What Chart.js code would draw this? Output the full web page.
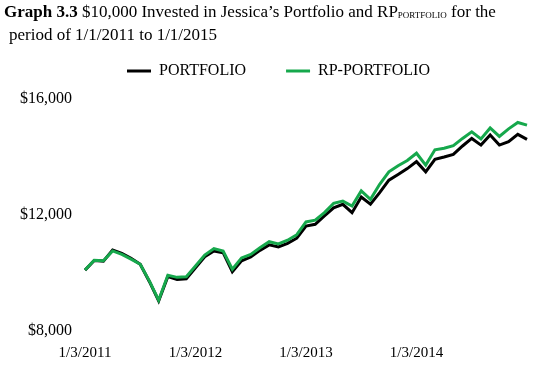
<!DOCTYPE html>
<html>
<head>
<meta charset="utf-8">
<script src="https://cdn.jsdelivr.net/npm/chart.js@4"></script>
<style>
    body { margin: 0; background: #fff; }
    #wrap { position: relative; width: 535px; height: 366px; }
    #title {
        position: absolute; left: 4px; top: 2px;
        font-family: "Liberation Serif", serif; font-size: 17px; line-height: 19.5px; color: #000;
    }
    #title .sub { font-size: 9px; position: relative; top: 1px; }
    #title .l2 { padding-left: 5px; }
    canvas { position: absolute; left: 0; top: 0; }
</style>
</head>
<body>
<div id="wrap">
    <canvas id="chart" width="535" height="366"></canvas>
    <div id="title"><b>Graph 3.3</b> $10,000 Invested in Jessica’s Portfolio and RP<span class="sub">PORTFOLIO</span> for the<br><span class="l2">period of 1/1/2011 to 1/1/2015</span></div>
</div>
<script>
// Monthly points, Jan 2011 -> Jan 2015
const months = [
    "2011-01","2011-02","2011-03","2011-04","2011-05","2011-06","2011-07","2011-08","2011-09","2011-10","2011-11","2011-12",
    "2012-01","2012-02","2012-03","2012-04","2012-05","2012-06","2012-07","2012-08","2012-09","2012-10","2012-11","2012-12",
    "2013-01","2013-02","2013-03","2013-04","2013-05","2013-06","2013-07","2013-08","2013-09","2013-10","2013-11","2013-12",
    "2014-01","2014-02","2014-03","2014-04","2014-05","2014-06","2014-07","2014-08","2014-09","2014-10","2014-11","2014-12",
    "2015-01"
];
const tickLabels = ["1/3/2011", "1/3/2012", "1/3/2013", "1/3/2014"];

const portfolio = [
    10100, 10430, 10410, 10790, 10680, 10510, 10300, 9700, 9040, 9880, 9780, 9800,
    10180, 10560, 10760, 10700, 10040, 10420, 10550, 10780, 10970, 10900, 11020, 11200,
    11620, 11680, 11970, 12250, 12370, 12080, 12620, 12370, 12770, 13200, 13400, 13600,
    13840, 13490, 13920, 14000, 14090, 14380, 14640, 14410, 14760, 14410, 14530, 14780,
    14610
];
const rpPortfolio = [
    10100, 10440, 10420, 10760, 10640, 10480, 10300, 9720, 9060, 9920, 9850, 9870,
    10240, 10620, 10840, 10760, 10130, 10520, 10640, 10870, 11080, 11000, 11130, 11320,
    11760, 11820, 12080, 12400, 12480, 12310, 12830, 12540, 13060, 13490, 13700, 13880,
    14130, 13720, 14250, 14300, 14390, 14640, 14870, 14620, 15000, 14710, 14970, 15190,
    15100
];

const serif = "'Liberation Serif', 'Times New Roman', serif";
const green = "#16a84c";

// a bit more room under the legend, and legend moved a little to the right
const legendTweak = {
    id: "legendTweak",
    beforeInit(chart) {
        const fit = chart.legend.fit;
        chart.legend.fit = function () {
            fit.bind(chart.legend)();
            this.height += 10;
        };
    },
    afterLayout(chart) {
        chart.legend.left += 15;
        chart.legend.right += 15;
    }
};

const ctx = document.getElementById("chart").getContext("2d");
new Chart(ctx, {
    type: "line",
    data: {
        labels: months,
        datasets: [
            { label: "PORTFOLIO", data: portfolio, borderColor: "#000", backgroundColor: "#000", borderWidth: 3, order: 1 },
            { label: "RP-PORTFOLIO", data: rpPortfolio, borderColor: green, backgroundColor: green, borderWidth: 3, order: 0 }
        ]
    },
    plugins: [legendTweak],
    options: {
        responsive: false,
        animation: false,
        elements: { point: { radius: 0 }, line: { tension: 0 } },
        layout: { padding: { top: 23, left: 0, right: 8, bottom: 4 } },
        plugins: {
            tooltip: { enabled: false },
            legend: {
                position: "top",
                labels: {
                    usePointStyle: true,
                    pointStyle: "line",
                    pointStyleWidth: 24,
                    padding: 40,
                    color: "#000",
                    font: { family: serif, size: 16 },
                    sort: (a, b) => a.datasetIndex - b.datasetIndex
                }
            }
        },
        scales: {
            x: {
                grid: { display: false },
                border: { display: false },
                afterFit: s => { s.height = 31; },
                ticks: {
                    autoSkip: false,
                    maxRotation: 0,
                    padding: 5,
                    color: "#000",
                    font: { family: serif, size: 15 },
                    callback: (v, i) => (i % 12 === 0 && i / 12 < tickLabels.length) ? tickLabels[i / 12] : null
                }
            },
            y: {
                min: 8000,
                max: 16000,
                grid: { display: false },
                border: { display: false },
                afterFit: s => { s.width = 85; },
                ticks: {
                    stepSize: 4000,
                    padding: 5,
                    color: "#000",
                    font: { family: serif, size: 16 },
                    callback: v => "$" + v.toLocaleString("en-US")
                }
            }
        }
    }
});
</script>
</body>
</html>
